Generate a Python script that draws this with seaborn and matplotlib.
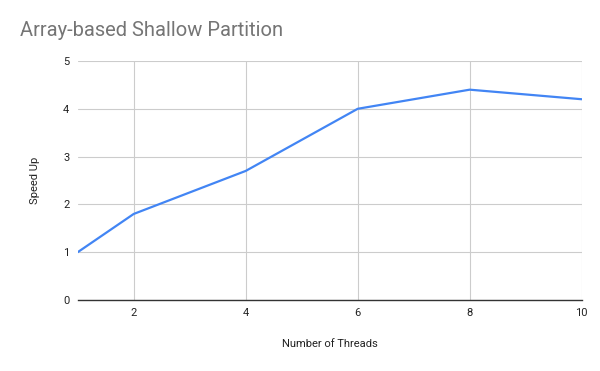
import pandas as pd
import matplotlib.pyplot as plt
import seaborn as sns

# values
threads = [1, 2, 4, 6, 8, 10]
speed_up = [1.0, 1.8, 2.7, 4.0, 4.4, 4.2]
x_ticks = [2, 4, 6, 8, 10]
y_ticks = [0, 1, 2, 3, 4, 5]

df = pd.DataFrame({'Number of Threads': threads, 'Speed Up': speed_up})

sns.set_style('white')
plt.rcParams['font.family'] = ['Roboto', 'DejaVu Sans']

fig = plt.figure(figsize=(6, 3.71), dpi=100)
ax = fig.add_axes([0.1295, 0.1914, 0.84, 0.6442])

sns.lineplot(x='Number of Threads', y='Speed Up', data=df, color='#4285F4', linewidth=1.6, ax=ax)

ax.set_xlim(1, 10)
ax.set_ylim(0, 5)
ax.set_xticks(x_ticks)
ax.set_yticks(y_ticks)
ax.grid(True, color='#cccccc', linewidth=0.8)
ax.tick_params(axis='both', length=0, labelsize=8, colors='#222222', pad=6)

for side in ['left', 'top', 'right']:
    ax.spines[side].set_visible(False)
ax.spines['bottom'].set_color('#333333')
ax.spines['bottom'].set_linewidth(1.0)

ax.set_xlabel('Number of Threads', fontsize=8, color='#222222', labelpad=15)
ax.set_ylabel('Speed Up', fontsize=8, color='#222222', labelpad=17)

fig.text(20 / 600, 1 - 31 / 371, 'Array-based Shallow Partition', fontsize=14.5,
         color='#757575', ha='left', va='center')

fig.savefig('out.png', dpi=100)
